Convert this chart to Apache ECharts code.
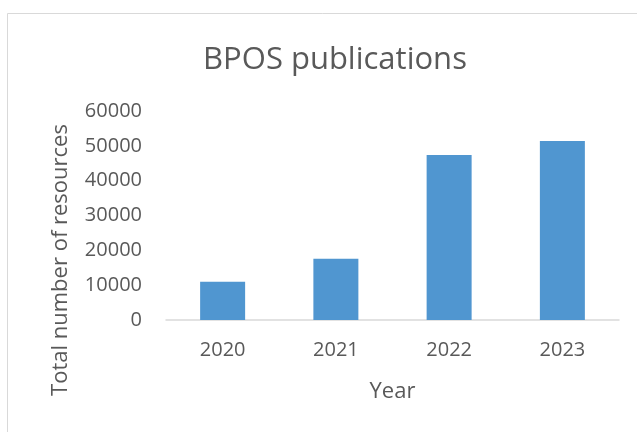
<!DOCTYPE html>
<html>
<head>
<meta charset="utf-8">
<script src="https://cdn.jsdelivr.net/npm/echarts@6/dist/echarts.min.js"></script>
<style>
  html, body { margin: 0; padding: 0; background: #fff; }
  #chart { width: 637px; height: 432px; }
</style>
</head>
<body>
<div id="chart"></div>
<script>
var years = ['2020', '2021', '2022', '2023'];
var resources = [11000, 17600, 47400, 51400];
var yTicks = [0, 60000, 10000]; // min, max, step

var textColor = '#595959';
var font = 'Open Sans';

var chart = echarts.init(document.getElementById('chart'));
var option = {
    backgroundColor: '#fff',
    animation: false,
    title: {
        text: 'BPOS publications',
        left: 330,
        top: 40,
        textAlign: 'center',
        textStyle: { color: textColor, fontFamily: font, fontSize: 31, fontWeight: 'normal' }
    },
    graphic: [{
        type: 'rect',
        shape: { x: 7.5, y: 13.5, width: 640, height: 430 },
        style: { fill: 'none', stroke: '#d9d9d9', lineWidth: 1 }
    }, {
        // y axis title sits lower than the plot middle in the original
        type: 'text',
        x: 61,
        y: 260,
        rotation: Math.PI / 2,
        style: {
            text: 'Total number of resources',
            fill: textColor,
            font: '22px "Open Sans"',
            align: 'center',
            verticalAlign: 'middle'
        }
    }],
    grid: { left: 166, right: 18, top: 111, bottom: 112 },
    xAxis: {
        type: 'category',
        data: years,
        name: 'Year',
        nameLocation: 'middle',
        nameGap: 61,
        nameTextStyle: { color: textColor, fontFamily: font, fontSize: 22 },
        axisLine: { lineStyle: { color: '#d9d9d9', width: 1.5 } },
        axisTick: { show: false },
        axisLabel: { color: textColor, fontFamily: font, fontSize: 20, margin: 20 }
    },
    yAxis: {
        type: 'value',
        min: yTicks[0],
        max: yTicks[1],
        interval: yTicks[2],
        axisLine: { show: false },
        axisTick: { show: false },
        splitLine: { show: false },
        axisLabel: {
            color: textColor, fontFamily: font, fontSize: 20, margin: 24,
            formatter: function (v) { return String(v); }
        }
    },
    series: [{
        type: 'bar',
        data: resources,
        barWidth: 45,
        itemStyle: { color: '#5096d0' }
    }]
};
chart.setOption(option);
</script>
</body>
</html>
